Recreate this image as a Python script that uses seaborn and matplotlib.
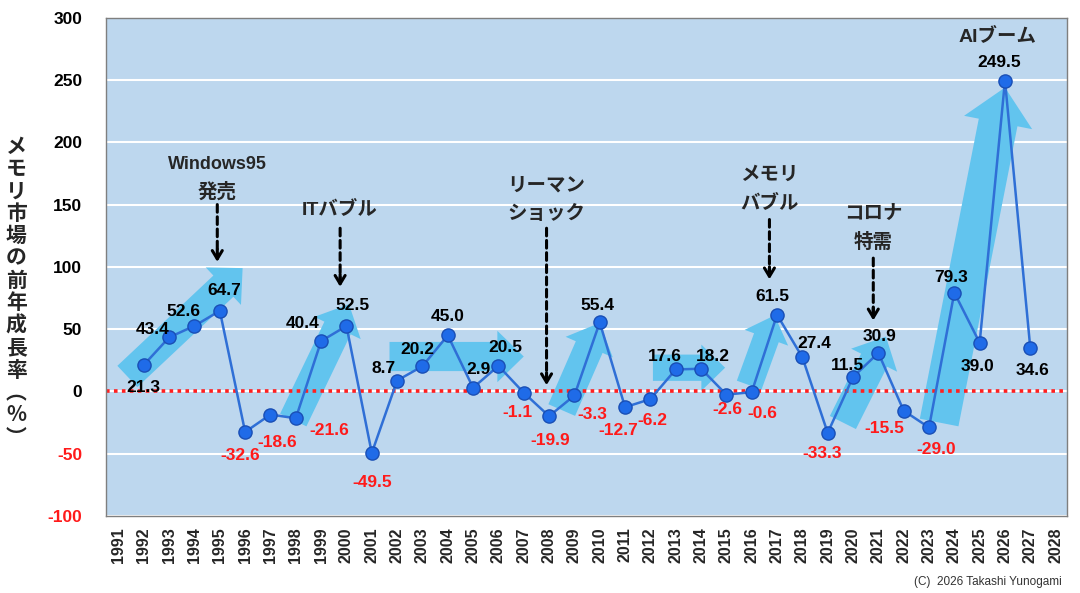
import matplotlib
matplotlib.use('Agg')
import matplotlib.pyplot as plt
import seaborn as sns
import pandas as pd

# data
years = list(range(1992, 2028))
growth = [21.3, 43.4, 52.6, 64.7, -32.6, -18.6, -21.6, 40.4, 52.5, -49.5,
          8.7, 20.2, 45.0, 2.9, 20.5, -1.1, -19.9, -3.3, 55.4, -12.7,
          -6.2, 17.6, 18.2, -2.6, -0.6, 61.5, 27.4, -33.3, 11.5, 30.9,
          -15.5, -29.0, 79.3, 39.0, 249.5, 34.6]
tick_years = list(range(1991, 2029))
y_ticks = [-100, -50, 0, 50, 100, 150, 200, 250, 300]
event_labels = ['Windows95\n発売', 'ITバブル', 'リーマン\nショック', 'メモリ\nバブル', 'コロナ\n特需']
ylabel_text = 'メモリ市場の前年成長率'

# annotation layout (data coords)
event_x = [1994.9, 1999.75, 2007.9, 2016.7, 2020.8]
event_text_y = [171, 146, 154, 162, 131]
event_arrow = [(150, 104), (131, 84), (131, 5), (138, 90), (107, 57)]
# trend arrows: tail x, tail y, head x, head y, scale
trend_arrows = [(1991.35, 12, 1995.9, 99, 1.0),
                (1997.9, -23, 2000.1, 70, 1.0),
                (2001.7, 28, 2007.0, 28, 1.0),
                (2008.5, -15, 2010.0, 55, 1.0),
                (2012.1, 19, 2014.95, 19, 0.9),
                (2015.9, 5, 2016.9, 61, 0.9),
                (2019.6, -25, 2021.3, 44, 1.0),
                (2023.4, -25, 2026.0, 244, 1.35)]
# value label offsets in pixels (dx, dy with dy down)
label_off = [(0, 23), (-17, -8), (-11, -14), (4, -20), (-5, 24), (7, 28), (33, 12),
             (-19, -18), (6, -21), (0, 29), (-14, -12), (-5, -17), (0, -19), (5, -18),
             (7, -18), (-6, 20), (1, 24), (18, 19), (-2, -17), (-7, 23), (2, 21),
             (-11, -13), (12, -12), (1, 15), (11, 21), (-5, -18), (12, -14), (-6, 21),
             (-6, -12), (1, -16), (-19, 18), (7, 22), (-3, -15), (-2, 24), (-6, -18),
             (2, 22)]

sns.set_style('white')
plt.rcParams['font.family'] = ['Liberation Sans', 'Noto Sans CJK JP', 'DejaVu Sans']

fig = plt.figure(figsize=(10.8, 5.93), dpi=100)
ax = fig.add_axes([0.098, 0.130, 0.890, 0.840])
ax.set_facecolor('#BDD7EE')

# trend arrows
for x0, y0, x1, y1, s in trend_arrows:
    ax.annotate('', xy=(x1, y1), xytext=(x0, y0),
                arrowprops=dict(arrowstyle=f'simple,head_length={1.9*s},head_width={3.7*s},tail_width={2.1*s}',
                                color='#62C4EE', lw=0, shrinkA=0, shrinkB=0, mutation_scale=10),
                zorder=2)

ax.axhline(0, color='#FF2020', ls=(0, (1, 1.2)), lw=2.6, zorder=2.5)

df = pd.DataFrame({'year': years, 'growth': growth})
sns.lineplot(data=df, x='year', y='growth', ax=ax, color='#2F6FD6', lw=1.8,
             marker='o', markersize=9.5, markerfacecolor='#1F6BE8',
             markeredgecolor='#1A4FB5', markeredgewidth=1.0, zorder=3)

# value labels
for (yr, v), (dx, dy) in zip(zip(years, growth), label_off):
    ax.annotate(f'{v:.1f}', xy=(yr, v), xytext=(dx * 0.72, -dy * 0.72),
                textcoords='offset points', ha='center', va='center',
                fontsize=12.5, fontweight='bold',
                color='#FF1A1A' if v < 0 else 'black', zorder=4)


def line_size(s):
    # latin-only lines a bit smaller than lines with kana/kanji
    return 13 if s.isascii() else 14


# event annotations
for lab, x, ty, (a0, a1) in zip(event_labels, event_x, event_text_y, event_arrow):
    lines = lab.split('\n')
    n = len(lines)
    for i, line in enumerate(lines):
        off = ((n - 1) / 2 - i) * 20
        ax.annotate(line, xy=(x, ty), xytext=(0, off), textcoords='offset points',
                    ha='center', va='center', fontsize=line_size(line),
                    fontweight='bold', zorder=4)
    ax.annotate('', xy=(x, a1 + 6), xytext=(x, a0),
                arrowprops=dict(arrowstyle='-', ls=(0, (2.5, 1.5)), lw=2.2, color='black',
                                shrinkA=0, shrinkB=0), zorder=4)
    ax.annotate('', xy=(x, a1), xytext=(0, 9), textcoords='offset points',
                arrowprops=dict(arrowstyle='->,head_length=0.5,head_width=0.3', lw=2.2,
                                color='black', shrinkA=0, shrinkB=0, mutation_scale=12),
                zorder=4)
ax.text(2025.7, 285, 'AIブーム', ha='center', va='center', fontsize=line_size('AIブーム'),
        fontweight='bold', zorder=4)

ax.set_xlim(1990.5, 2028.45)
ax.set_ylim(-100, 300)
ax.set_xticks(tick_years)
ax.set_xticklabels([str(t) for t in tick_years], rotation=90, fontsize=11.5, fontweight='bold')
ax.set_yticks(y_ticks)
ax.set_yticklabels([str(t) for t in y_ticks], fontsize=12.5, fontweight='bold')
for t, v in zip(ax.get_yticklabels(), y_ticks):
    t.set_color('#FF1A1A' if v < 0 else 'black')
ax.tick_params(axis='both', length=0)
ax.tick_params(axis='y', pad=17)
ax.tick_params(axis='x', pad=8)
ax.yaxis.grid(True, color='white', lw=1.5)
ax.xaxis.grid(False)
ax.set_axisbelow(True)
ax.set_xlabel('')
ax.set_ylabel('')
for sp in ax.spines.values():
    sp.set_color('#7F7F7F')
    sp.set_linewidth(1.0)

vtext = '\n'.join(ylabel_text) + '\n︵\n%\n︶'
fig.text(0.015, 0.508, vtext, ha='center', va='center', fontsize=15, fontweight='bold',
         linespacing=1.08, family=['Noto Sans CJK JP', 'DejaVu Sans'])
fig.text(0.983, 0.019, '(C)  2026 Takashi Yunogami', ha='right', va='center',
         fontsize=8.5, color='#333333')

fig.savefig('out.png', dpi=100)
